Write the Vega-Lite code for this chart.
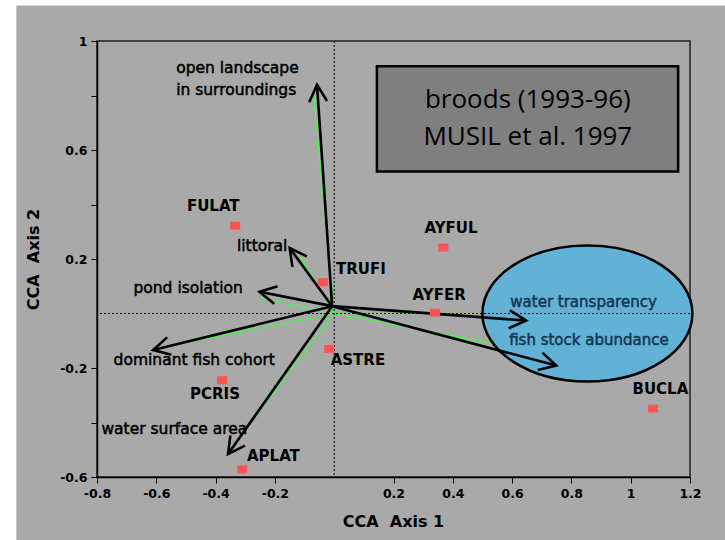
{
  "$schema": "https://vega.github.io/schema/vega-lite/v6.json",
  "width": 593,
  "height": 436,
  "autosize": {"type": "none"},
  "padding": {"left": 97, "top": 41, "right": 35, "bottom": 63},
  "background": "#ffffff",
  "config": {
    "view": {"stroke": null},
    "axis": {
      "grid": false,
      "domainColor": "#000000",
      "domainWidth": 1.5,
      "tickColor": "#000000",
      "tickSize": 6,
      "tickWidth": 1,
      "labelFont": "DejaVu Sans",
      "labelFontWeight": "bold",
      "labelFontSize": 12.5,
      "labelColor": "#000000",
      "labelPadding": 4,
      "labelFlush": false,
      "labelOverlap": false,
      "titleFont": "DejaVu Sans",
      "titleFontWeight": "bold",
      "titleFontSize": 16,
      "titleColor": "#000000"
    }
  },
  "datasets": {
    "vectors": [
      {"var": "open landscape", "ox": -0.007, "oy": 0.027, "x": -0.058, "y": 0.839, "gox": 0, "goy": 0, "gx": -0.07, "gy": 0.814},
      {"var": "littoral", "ox": -0.007, "oy": 0.027, "x": -0.15, "y": 0.24, "gox": 0, "goy": 0, "gx": -0.118, "gy": 0.215},
      {"var": "pond isolation", "ox": -0.007, "oy": 0.027, "x": -0.252, "y": 0.08, "gox": 0, "goy": 0, "gx": -0.247, "gy": 0.054},
      {"var": "dominant fish cohort", "ox": -0.007, "oy": 0.027, "x": -0.611, "y": -0.134, "gox": 0, "goy": 0, "gx": -0.608, "gy": -0.13},
      {"var": "water surface area", "ox": -0.007, "oy": 0.027, "x": -0.358, "y": -0.516, "gox": 0, "goy": 0, "gx": -0.36, "gy": -0.51},
      {"var": "water transparency", "ox": -0.007, "oy": 0.027, "x": 0.647, "y": -0.026, "gox": 0, "goy": 0, "gx": 0.617, "gy": 0.0},
      {"var": "fish stock abundance", "ox": -0.007, "oy": 0.027, "x": 0.749, "y": -0.191, "gox": 0, "goy": 0, "gx": 0.705, "gy": -0.145}
    ],
    "varlabels": [
      {"label": "open landscape", "lx": -0.533, "ly": 0.902},
      {"label": "in surroundings", "lx": -0.533, "ly": 0.819},
      {"label": "littoral", "lx": -0.328, "ly": 0.248},
      {"label": "pond isolation", "lx": -0.677, "ly": 0.093},
      {"label": "dominant fish cohort", "lx": -0.744, "ly": -0.17},
      {"label": "water surface area", "lx": -0.785, "ly": -0.425},
      {"label": "water transparency", "lx": 0.594, "ly": 0.041},
      {"label": "fish stock abundance", "lx": 0.59, "ly": -0.097}
    ],
    "sites": [
      {"site": "FULAT", "x": -0.334, "y": 0.322, "lx": -0.408, "ly": 0.395},
      {"site": "AYFUL", "x": 0.368, "y": 0.242, "lx": 0.394, "ly": 0.314},
      {"site": "TRUFI", "x": -0.038, "y": 0.115, "lx": 0.09, "ly": 0.165},
      {"site": "AYFER", "x": 0.34, "y": 0.003, "lx": 0.354, "ly": 0.068},
      {"site": "ASTRE", "x": -0.017, "y": -0.13, "lx": 0.08, "ly": -0.17},
      {"site": "PCRIS", "x": -0.378, "y": -0.245, "lx": -0.402, "ly": -0.295},
      {"site": "APLAT", "x": -0.31, "y": -0.572, "lx": -0.205, "ly": -0.522},
      {"site": "BUCLA", "x": 1.075, "y": -0.349, "lx": 1.1, "ly": -0.278}
    ]
  },
  "layer": [
    {
      "data": {"values": [{"x1": -1.072, "x2": 1.4, "y1": 1.13, "y2": -0.9}]},
      "mark": {"type": "rect", "fill": "#a9a9a9"},
      "encoding": {
        "x": {
          "field": "x1", "type": "quantitative",
          "scale": {"domain": [-0.8, 1.2], "nice": false, "zero": false},
          "axis": {
            "values": [-0.8, -0.6, -0.4, -0.2, 0.2, 0.4, 0.6, 0.8, 1, 1.2],
            "labelExpr": "datum.value < 0 ? '-' + format(-datum.value, '') : format(datum.value, '')",
            "labelOverlap": false,
            "labelFlush": false,
            "labelSeparation": 0,
            "title": "CCA\u00a0 Axis 1",
            "titleX": 296, "titleY": 44,
            "titleAlign": "center", "titleBaseline": "middle",
            "zindex": 1
          }
        },
        "x2": {"field": "x2"},
        "y": {
          "field": "y1", "type": "quantitative",
          "scale": {"domain": [-0.6, 1], "nice": false, "zero": false},
          "axis": {
            "values": [-0.6, -0.4, -0.2, 0.2, 0.4, 0.6, 0.8, 1],
            "labelExpr": "indexof([-0.6, -0.2, 0.2, 0.6, 1], datum.value) >= 0 ? '' + datum.value : ''",
            "labelOverlap": false,
            "labelFlush": false,
            "title": "CCA\u00a0 Axis 2",
            "titleX": -64, "titleY": 218, "titleAngle": -90,
            "titleAlign": "center", "titleBaseline": "middle",
            "zindex": 1
          }
        },
        "y2": {"field": "y2"}
      }
    },
    {
      "data": {"values": [{"x1": -0.8, "x2": 1.2, "y1": 1, "y2": -0.6}]},
      "mark": {"type": "rect", "fillOpacity": 0, "stroke": "#222222", "strokeWidth": 1.5},
      "encoding": {
        "x": {"field": "x1", "type": "quantitative"},
        "x2": {"field": "x2"},
        "y": {"field": "y1", "type": "quantitative"},
        "y2": {"field": "y2"}
      }
    },
    {
      "data": {"name": "vectors"},
      "mark": {"type": "rule", "stroke": "#3dff3d", "strokeWidth": 1.2},
      "encoding": {
        "x": {"field": "gox", "type": "quantitative"},
        "y": {"field": "goy", "type": "quantitative"},
        "x2": {"field": "gx"},
        "y2": {"field": "gy"}
      }
    },
    {
      "data": {"values": [{"cx": 0.854, "cy": 0}]},
      "mark": {
        "type": "point",
        "shape": "M -1 0 A 1 0.648 0 1 1 1 0 A 1 0.648 0 1 1 -1 0 Z",
        "size": 44100,
        "filled": true,
        "fill": "#62b1d6",
        "opacity": 1,
        "stroke": "#000000",
        "strokeWidth": 2.5
      },
      "encoding": {
        "x": {"field": "cx", "type": "quantitative"},
        "y": {"field": "cy", "type": "quantitative"}
      }
    },
    {
      "data": {"values": [{"zero": 0}]},
      "mark": {"type": "rule", "stroke": "#000000", "strokeWidth": 1, "strokeDash": [2, 2]},
      "encoding": {"x": {"field": "zero", "type": "quantitative"}}
    },
    {
      "data": {"values": [{"zero": 0}]},
      "mark": {"type": "rule", "stroke": "#000000", "strokeWidth": 1, "strokeDash": [2, 2]},
      "encoding": {"y": {"field": "zero", "type": "quantitative"}}
    },
    {
      "data": {"name": "vectors"},
      "mark": {"type": "rule", "stroke": "#000000", "strokeWidth": 2.6},
      "encoding": {
        "x": {"field": "ox", "type": "quantitative"},
        "y": {"field": "oy", "type": "quantitative"},
        "x2": {"field": "x"},
        "y2": {"field": "y"}
      }
    },
    {
      "data": {"name": "vectors"},
      "transform": [
        {"calculate": "atan2((datum.x - datum.ox) * 296.5, (datum.y - datum.oy) * 272.3) * 180 / PI", "as": "heading"}
      ],
      "mark": {
        "type": "point",
        "shape": "M -0.47 0.88 L 0 0 L 0.47 0.88",
        "size": 1444,
        "filled": false,
        "stroke": "#000000",
        "strokeWidth": 2.6,
        "opacity": 1
      },
      "encoding": {
        "x": {"field": "x", "type": "quantitative"},
        "y": {"field": "y", "type": "quantitative"},
        "angle": {"field": "heading", "type": "quantitative", "scale": null}
      }
    },
    {
      "data": {"name": "varlabels"},
      "transform": [{"filter": "datum.lx < 0.5"}],
      "mark": {"type": "text", "align": "left", "baseline": "middle", "font": "DejaVu Sans", "fontSize": 15.5, "fill": "#000000", "stroke": "#000000", "strokeWidth": 0.5},
      "encoding": {
        "x": {"field": "lx", "type": "quantitative"},
        "y": {"field": "ly", "type": "quantitative"},
        "text": {"field": "label"}
      }
    },
    {
      "data": {"name": "varlabels"},
      "transform": [{"filter": "datum.lx >= 0.5"}],
      "mark": {"type": "text", "align": "left", "baseline": "middle", "font": "DejaVu Sans", "fontSize": 15, "fill": "#163750", "stroke": "#163750", "strokeWidth": 0.5},
      "encoding": {
        "x": {"field": "lx", "type": "quantitative"},
        "y": {"field": "ly", "type": "quantitative"},
        "text": {"field": "label"}
      }
    },
    {
      "data": {"name": "sites"},
      "mark": {
        "type": "point",
        "shape": "M -1 -0.8 L 1 -0.8 L 1 0.8 L -1 0.8 Z",
        "size": 100,
        "filled": true,
        "fill": "#ff5252",
        "opacity": 1,
        "strokeWidth": 0
      },
      "encoding": {
        "x": {"field": "x", "type": "quantitative"},
        "y": {"field": "y", "type": "quantitative"}
      }
    },
    {
      "data": {"name": "sites"},
      "mark": {"type": "text", "align": "center", "baseline": "middle", "font": "DejaVu Sans", "fontWeight": "bold", "fontSize": 15, "fill": "#000000"},
      "encoding": {
        "x": {"field": "lx", "type": "quantitative"},
        "y": {"field": "ly", "type": "quantitative"},
        "text": {"field": "site"}
      }
    },
    {
      "data": {"values": [{"x1": 0.144, "x2": 1.16, "y1": 0.907, "y2": 0.521}]},
      "mark": {"type": "rect", "fill": "#7f7f7f", "stroke": "#000000", "strokeWidth": 2.5},
      "encoding": {
        "x": {"field": "x1", "type": "quantitative"},
        "x2": {"field": "x2"},
        "y": {"field": "y1", "type": "quantitative"},
        "y2": {"field": "y2"}
      }
    },
    {
      "data": {"values": [{"tx": 0.653, "ty": 0.784}]},
      "mark": {
        "type": "text",
        "text": ["broods (1993-96)", "MUSIL et al. 1997"],
        "align": "center",
        "baseline": "middle",
        "lineHeight": 37,
        "font": "Open Sans",
        "fontSize": 26,
        "fill": "#000000"
      },
      "encoding": {
        "x": {"field": "tx", "type": "quantitative"},
        "y": {"field": "ty", "type": "quantitative"}
      }
    }
  ]
}
